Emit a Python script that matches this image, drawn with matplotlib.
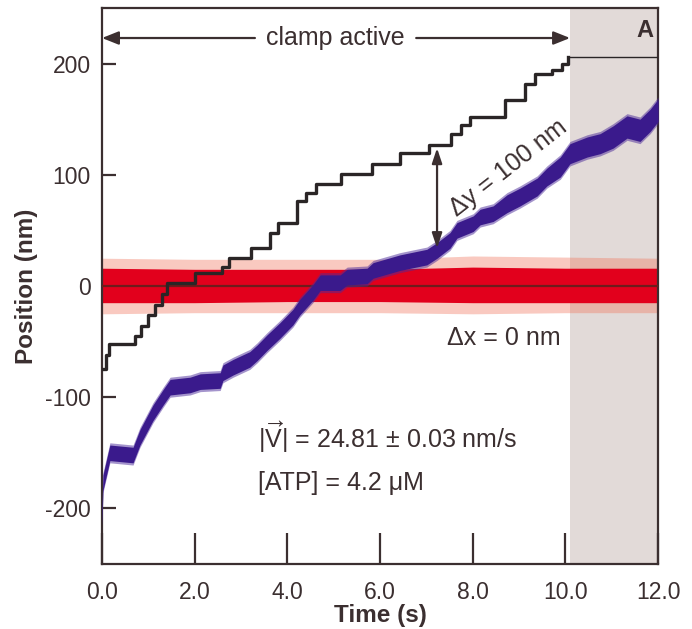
import numpy as np
import matplotlib.pyplot as plt

plt.rcParams['font.family'] = ['Liberation Sans', 'DejaVu Sans']
plt.rcParams['mathtext.fontset'] = 'custom'
plt.rcParams['mathtext.rm'] = 'Liberation Sans'
plt.rcParams['mathtext.it'] = 'Liberation Sans'
plt.rcParams['axes.unicode_minus'] = False

ink = '#3b2f30'

# black trace: clamped bead position (step times and levels, nm)
black_t = [0.0, 0.08, 0.15, 0.71, 0.85, 1.0, 1.15, 1.3, 1.40, 2.0, 2.6, 2.75,
           3.22, 3.62, 3.80, 4.20, 4.40, 4.62, 5.16, 5.82, 6.42, 7.06, 7.54,
           7.75, 7.95, 8.70, 9.12, 9.35, 9.72, 9.92, 10.06]
black_y = [-75, -62, -52, -45, -36, -26, -17, -7, 3, 12, 17, 25,
           34, 48, 57, 76, 84, 92, 101, 110, 120, 127, 137,
           145, 152, 167, 182, 191, 194, 200, 206]
hold_t = [10.06, 12.0]
hold_y = [206, 206]

# blue trace: y position (centre of the noisy band and its half width, nm)
blue_t = [0.0, 0.02, 0.17, 0.67, 0.82, 1.10, 1.32, 1.47, 1.90, 2.12, 2.55, 2.61,
          2.83, 3.19, 3.35, 3.56, 3.84, 4.12, 4.27, 4.55, 4.71, 5.14, 5.29, 5.72,
          5.85, 6.43, 7.01, 7.23, 7.51, 7.66, 8.01, 8.16, 8.44, 8.74, 9.02, 9.39,
          9.60, 9.89, 10.10, 10.47, 10.75, 11.03, 11.33, 11.61, 11.83, 12.0]
blue_y = [-207, -177, -150, -152, -136, -114, -100, -91, -89, -86, -85, -78,
          -73, -66, -60, -51, -40, -28, -19, -6, 3, 3, 8, 9,
          14, 21, 26, 32, 41, 50, 56, 62, 65, 74, 80, 89,
          98, 107, 119, 125, 128, 134, 143, 140, 149, 158]
blue_hw = [7, 7, 7, 7, 7, 7, 7, 7, 7, 7, 7, 7,
           7, 7, 7, 7, 7, 7, 7, 7, 7, 7, 7, 7,
           7, 7, 7, 7, 7, 7, 7, 7, 7, 8, 8, 8,
           8, 9, 9, 9, 9, 10, 10, 10, 10, 10]

# red trace: x position, dense core and scattered outer envelope (nm)
red_t = [0.0, 2.0, 4.0, 6.0, 8.0, 10.0, 12.0]
red_core_hi = [16, 15, 15, 15, 17, 16, 16]
red_core_lo = [-15, -15, -14, -14, -15, -15, -15]
red_out_hi = [25, 24, 24, 24, 27, 26, 25]
red_out_lo = [-25, -24, -24, -24, -25, -24, -24]

xticks = [0, 2, 4, 6, 8, 10, 12]
xticklabels = ['0.0', '2.0', '4.0', '6.0', '8.0', '10.0', '12.0']
yticks = [-200, -100, 0, 100, 200]

fig = plt.figure(figsize=(6.92, 6.29), dpi=100)
ax = fig.add_axes([0.1474, 0.1033, 0.8036, 0.884])

ax.axvspan(10.1, 12.0, color='#e2dad8', lw=0, zorder=0)

ax.fill_between(red_t, red_out_lo, red_out_hi, color='#f07a62', alpha=0.4, lw=0, zorder=1)
ax.fill_between(red_t, red_core_lo, red_core_hi, color='#e2001c', lw=0, zorder=2)
ax.axhline(0, color='#6e1c1c', lw=1.6, zorder=3)

blue_y = np.array(blue_y)
blue_hw = np.array(blue_hw)
ax.fill_between(blue_t, blue_y - blue_hw - 2, blue_y + blue_hw + 2, color='#4b2a9a',
                alpha=0.5, lw=0, zorder=4)
ax.fill_between(blue_t, blue_y - blue_hw, blue_y + blue_hw, color='#3a1a8c', lw=0, zorder=5)

ax.plot(black_t, black_y, drawstyle='steps-post', color='#2a2526', lw=2.4, zorder=6)
ax.plot(hold_t, hold_y, color='#2a2526', lw=1.0, zorder=6)

# clamp active arrows
arrow_kw = dict(arrowstyle='-|>,head_length=1.0,head_width=0.4', color=ink, lw=1.6,
                shrinkA=0, shrinkB=0)
ax.annotate('', xy=(0.0, 223), xytext=(3.3, 223), arrowprops=arrow_kw, zorder=7)
ax.annotate('', xy=(10.1, 223), xytext=(6.78, 223), arrowprops=arrow_kw, zorder=7)
ax.text(5.03, 223, 'clamp active', fontsize=18, color=ink, ha='center', va='center')

# delta y arrow
ax.annotate('', xy=(7.23, 124), xytext=(7.23, 34),
            arrowprops=dict(arrowstyle='<|-|>,head_length=0.9,head_width=0.3', color=ink,
                            lw=1.6, shrinkA=0, shrinkB=0), zorder=7)
ax.text(8.76, 106, 'Δy = 100 nm', fontsize=18, color=ink, ha='center', va='center',
        rotation=38, rotation_mode='anchor', zorder=8)

ax.text(8.66, -47, 'Δx = 0 nm', fontsize=18, color=ink, ha='center', va='center')
ax.text(3.37, -136, r'$|\overrightarrow{\mathrm{V}}|$ = 24.81 ± 0.03 nm/s', fontsize=18,
        color=ink, ha='left', va='center')
ax.text(3.37, -177, '[ATP] = 4.2 μM', fontsize=18, color=ink, ha='left', va='center')
ax.text(11.72, 230, 'A', fontsize=17, fontweight='bold', color=ink, ha='center', va='center')

ax.set_xlim(0, 12)
ax.set_ylim(-250, 250)
ax.set_xticks(xticks)
ax.set_xticklabels(xticklabels)
ax.set_yticks(yticks)
ax.tick_params(axis='x', direction='in', length=22, width=1.6, colors=ink, labelsize=16.5, pad=12)
ax.tick_params(axis='y', direction='in', length=10, width=1.6, colors=ink, labelsize=16.5, pad=8)
for s in ax.spines.values():
    s.set_color(ink)
    s.set_linewidth(1.6)

ax.set_xlabel('Time (s)', fontsize=17.5, fontweight='bold', color=ink, labelpad=0)
ax.set_ylabel('Position (nm)', fontsize=17.5, fontweight='bold', color=ink)
ax.yaxis.set_label_coords(-0.115, 0.5)

fig.savefig('out.png', dpi=100)
